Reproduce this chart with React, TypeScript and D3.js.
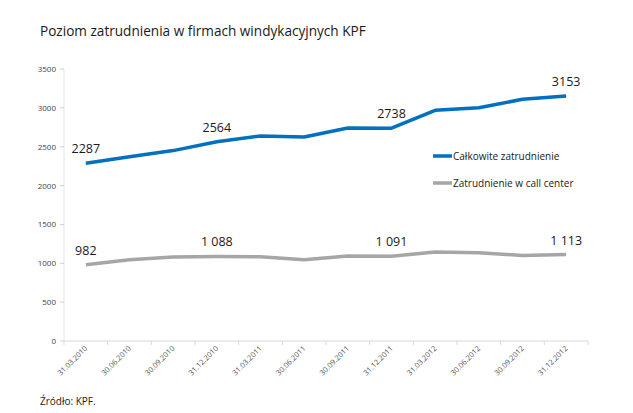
import React from "react";
import * as d3 from "d3";

const categories = ["31.03.2010","30.06.2010","30.09.2010","31.12.2010","31.03.2011","30.06.2011","30.09.2011","31.12.2011","31.03.2012","30.06.2012","30.09.2012","31.12.2012"];
const totalEmployment = [2287, 2370, 2450, 2564, 2638, 2625, 2741, 2738, 2968, 3002, 3110, 3153];
const callCenter = [982, 1045, 1080, 1088, 1085, 1045, 1095, 1091, 1145, 1135, 1100, 1113];
const yTicks = [0, 500, 1000, 1500, 2000, 2500, 3000, 3500];
const totalLabels = [[0, "2287"], [3, "2564"], [7, "2738"], [11, "3153"]] as [number, string][];
const callLabels = [[0, "982"], [3, "1 088"], [7, "1 091"], [11, "1 113"]] as [number, string][];
const seriesNames = ["Całkowite zatrudnienie", "Zatrudnienie w call center"];

const W = 633, H = 413;
const left = 64, right = 588, top = 69, bottom = 341;
const font = "'Open Sans', 'Noto Sans', sans-serif";

export default function App() {
  const x = d3.scaleBand<string>().domain(categories).range([left, right]);
  const y = d3.scaleLinear().domain([0, 3500]).range([bottom, top]);
  const cx = (i: number) => (x(categories[i]) as number) + x.bandwidth() / 2;
  const line = d3.line<number>().x((_, i) => cx(i)).y(d => y(d)).curve(d3.curveLinear);
  const blue = "#0070C0", gray = "#A6A6A6";
  const boundaries = d3.range(categories.length + 1).map(i => left + i * x.bandwidth());
  return (
    <svg width={W} height={H} style={{ position: "absolute", left: 0, top: 0, background: "#fff" }}>
      <text x={40} y={36} fontFamily={font} fontSize={13.6} fill="#1a1a1a">Poziom zatrudnienia w firmach windykacyjnych KPF</text>
      {/* y axis */}
      <line x1={left} x2={left} y1={top} y2={bottom} stroke="#e4e4e4" />
      {yTicks.map(t => (
        <g key={t}>
          <line x1={left - 4} x2={left} y1={y(t)} y2={y(t)} stroke="#d0d0d0" />
          <text x={left - 8} y={y(t) + 3} textAnchor="end" fontFamily={font} fontSize={8} fill="#444">{t}</text>
        </g>
      ))}
      {/* x axis */}
      <line x1={left} x2={right} y1={bottom} y2={bottom} stroke="#d9d9d9" />
      {boundaries.map((b, i) => (
        <line key={i} x1={b} x2={b} y1={bottom} y2={bottom + 4} stroke="#d9d9d9" />
      ))}
      {categories.map((c, i) => (
        <text key={c} transform={`translate(${cx(i) + 2},${bottom + 8}) rotate(-45)`} textAnchor="end" fontFamily={font} fontSize={7.5} fill="#555">{c}</text>
      ))}
      <path d={line(totalEmployment) as string} fill="none" stroke={blue} strokeWidth={3.5} strokeLinejoin="round" />
      <path d={line(callCenter) as string} fill="none" stroke={gray} strokeWidth={3.5} strokeLinejoin="round" />
      {totalLabels.map(([i, s]) => (
        <text key={s} x={cx(i)} y={y(totalEmployment[i]) - 10} textAnchor="middle" fontFamily={font} fontSize={12.5} fill="#1a1a1a">{s}</text>
      ))}
      {callLabels.map(([i, s]) => (
        <text key={s} x={cx(i)} y={y(callCenter[i]) - 10} textAnchor="middle" fontFamily={font} fontSize={12.5} fill="#1a1a1a">{s}</text>
      ))}
      {/* legend */}
      {[blue, gray].map((col, k) => (
        <g key={k}>
          <line x1={433} x2={452} y1={156 + k * 27} y2={156 + k * 27} stroke={col} strokeWidth={3.5} />
          <text x={453} y={160 + k * 27} fontFamily={font} fontSize={10} fill="#1a1a1a">{seriesNames[k]}</text>
        </g>
      ))}
      <text x={40} y={405} fontFamily={font} fontSize={10} fill="#1a1a1a">Źródło: KPF.</text>
    </svg>
  );
}
